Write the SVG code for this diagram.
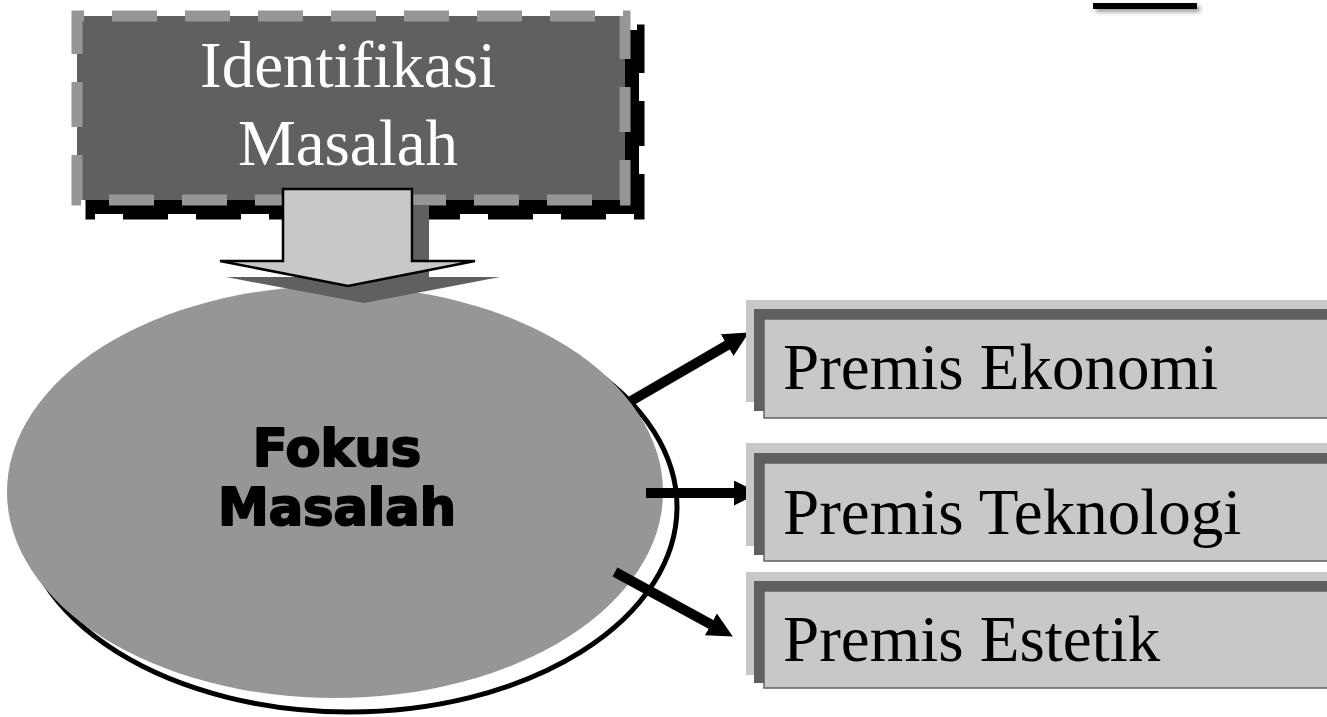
<svg xmlns="http://www.w3.org/2000/svg" width="1327" height="717" viewBox="0 0 1327 717">
<defs>
<style>
.serif{font-family:"Liberation Serif","Times New Roman",serif;}
.bold{font-family:"DejaVu Sans",sans-serif;font-weight:bold;stroke:#000;stroke-width:2;stroke-linejoin:round;}
.back{fill:#c8c8c8;}
.mid{fill:#606060;}
.front{fill:#c8c8c8;stroke:#606060;stroke-width:1.5;}
.conn{stroke:#000;stroke-width:10;fill:none;marker-end:url(#ah);}
</style>
<marker id="ah" viewBox="0 0 24 24" markerWidth="25" markerHeight="25" markerUnits="userSpaceOnUse" refX="2" refY="12" orient="auto">
<path d="M0,0 L24,12 L0,24 z" fill="#000"/>
</marker>
<filter id="blur" x="-20%" y="-100%" width="140%" height="300%">
<feGaussianBlur stdDeviation="2"/>
</filter>
</defs>
<rect width="1327" height="717" fill="#fff"/>

<g id="top-bar">
<rect x="1096" y="6" width="104" height="6" fill="#999" filter="url(#blur)"/>
<rect x="1093" y="3" width="104" height="6" fill="#000"/>
</g>

<g id="fokus-masalah">
<ellipse cx="349" cy="507" rx="328" ry="205" fill="#fff" stroke="#000" stroke-width="5"/>
<ellipse cx="335" cy="492" rx="328" ry="206" fill="#969696"/>
<text class="bold" x="337" y="466" font-size="51" text-anchor="middle" fill="#000">Fokus</text>
<text class="bold" x="337" y="525" font-size="51" text-anchor="middle" fill="#000">Masalah</text>
</g>

<g id="identifikasi-masalah">
<path d="M91,214 V30 H639 V214 Z" fill="#000" stroke="#000" stroke-width="11" stroke-dasharray="45 28"/>
<path d="M77,200 V16 H625 V200 Z" fill="#606060" stroke="#969696" stroke-width="11" stroke-dasharray="45 28"/>
<text class="serif" x="348" y="87" font-size="65" text-anchor="middle" fill="#fff">Identifikasi</text>
<text class="serif" x="348" y="165" font-size="65" text-anchor="middle" fill="#fff">Masalah</text>
</g>

<g id="connectors">
<polygon points="300,205 429,205 429,277 500,277 364,303 226,277 300,277" fill="#606060"/>
<polygon points="283,189 412,189 412,261 475,261 348,286 220,261 283,261" fill="#c8c8c8" stroke="#000" stroke-width="2.5" stroke-linejoin="miter"/>
<line class="conn" x1="631" y1="401" x2="729" y2="344.1"/>
<line class="conn" x1="646" y1="493" x2="736" y2="493"/>
<line class="conn" x1="615" y1="572" x2="712.7" y2="625.4"/>
</g>

<g id="premis-ekonomi">
<rect class="back" x="746" y="300" width="600" height="102"/>
<rect class="mid" x="754" y="309" width="600" height="102"/>
<rect class="front" x="764" y="319" width="600" height="99"/>
<text class="serif" x="783" y="389" font-size="65" fill="#000">Premis Ekonomi</text>
</g>

<g id="premis-teknologi">
<rect class="back" x="746" y="443" width="600" height="103"/>
<rect class="mid" x="754" y="453" width="600" height="102"/>
<rect class="front" x="764" y="463" width="600" height="98"/>
<text class="serif" x="783" y="534" font-size="65" fill="#000">Premis Teknologi</text>
</g>

<g id="premis-estetik">
<rect class="back" x="746" y="572" width="600" height="103"/>
<rect class="mid" x="754" y="581" width="600" height="102"/>
<rect class="front" x="764" y="591" width="600" height="97"/>
<text class="serif" x="783" y="661" font-size="65" fill="#000">Premis Estetik</text>
</g>
</svg>
